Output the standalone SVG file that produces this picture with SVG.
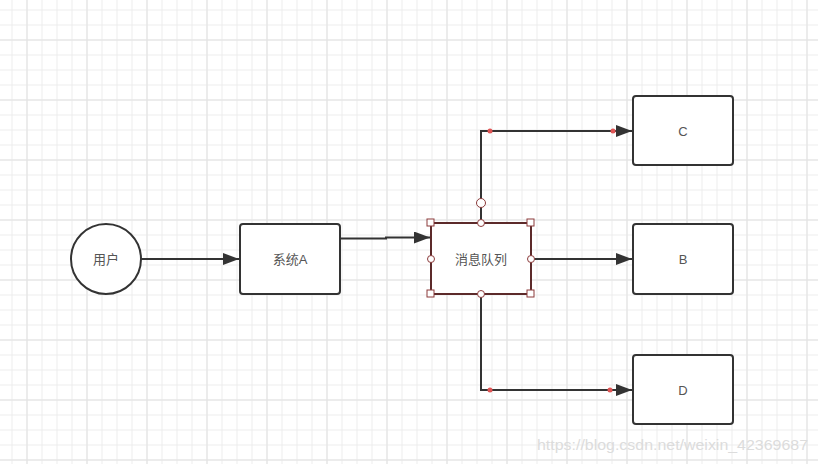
<svg xmlns="http://www.w3.org/2000/svg" width="818" height="464" viewBox="0 0 818 464">
<defs>
<pattern id="minor" x="11.5" y="9.5" width="15" height="15" patternUnits="userSpaceOnUse">
<path d="M0.5 0V15M0 0.5H15" fill="none" stroke="#ececec" stroke-width="1"/>
</pattern>
<pattern id="major" x="26.5" y="39.5" width="60" height="60" patternUnits="userSpaceOnUse">
<path d="M0.5 0V60M0 0.5H60" fill="none" stroke="#e2e2e2" stroke-width="1"/>
</pattern>
<marker id="arrow" viewBox="0 0 16 12" refX="16" refY="6" markerWidth="16" markerHeight="12" markerUnits="userSpaceOnUse" orient="auto">
<path d="M0 0L16 6L0 12Z" fill="#333"/>
</marker>
</defs>
<style>
.node{fill:#fff;stroke:#333;stroke-width:2}
.lbl{font-family:"Liberation Sans","Noto Sans CJK SC",sans-serif;font-size:13px;fill:#555;text-anchor:middle;dominant-baseline:central}
.edge{fill:none;stroke:#333;stroke-width:2;marker-end:url(#arrow)}
.dot{fill:#e05555}
.hs{fill:#fff;stroke:#8b3a3a;stroke-width:1}
</style>
<rect width="818" height="464" fill="#fff"/>
<rect width="818" height="464" fill="url(#minor)"/>
<rect width="818" height="464" fill="url(#major)"/>

<g id="connectors">
<path class="edge" d="M141 259H239"/>
<path class="edge" d="M340 238.5H386V237.5H430"/>
<path class="edge" d="M481 223V131H632"/>
<path class="edge" d="M531 259H632"/>
<path class="edge" d="M481 294V390H632"/>
<circle class="dot" cx="490" cy="131" r="2.5"/>
<circle class="dot" cx="613" cy="131" r="2.5"/>
<circle class="dot" cx="490" cy="390" r="2.5"/>
<circle class="dot" cx="610" cy="390" r="2.5"/>
</g>

<g id="user">
<circle class="node" cx="106" cy="259" r="35"/>
<text class="lbl" x="106" y="259">用户</text>
</g>
<g id="systemA">
<rect class="node" x="240" y="224" width="100" height="70" rx="3"/>
<text class="lbl" x="290" y="259">系统A</text>
</g>
<g id="mq">
<rect x="431" y="223" width="100" height="71" fill="#fff" stroke="#5c2a2a" stroke-width="2"/>
<text class="lbl" x="481" y="259">消息队列</text>
<rect class="hs" x="427" y="219" width="7" height="7"/>
<rect class="hs" x="527" y="219" width="7" height="7"/>
<rect class="hs" x="427" y="290" width="7" height="7"/>
<rect class="hs" x="527" y="290" width="7" height="7"/>
<circle class="hs" cx="481" cy="223" r="3.5"/>
<circle class="hs" cx="481" cy="294" r="3.5"/>
<circle class="hs" cx="431" cy="259" r="3.5"/>
<circle class="hs" cx="531" cy="259" r="3.5"/>
<circle class="hs" cx="481" cy="203" r="4.5"/>
</g>
<g id="C">
<rect class="node" x="633" y="96" width="100" height="69" rx="3"/>
<text class="lbl" x="683" y="131">C</text>
</g>
<g id="B">
<rect class="node" x="633" y="224" width="100" height="70" rx="3"/>
<text class="lbl" x="683" y="259">B</text>
</g>
<g id="D">
<rect class="node" x="633" y="355" width="100" height="69" rx="3"/>
<text class="lbl" x="683" y="390">D</text>
</g>
<text x="537" y="450" font-family="Liberation Sans,sans-serif" font-size="15" fill="#dcdcdc" textLength="271" lengthAdjust="spacingAndGlyphs">https://blog.csdn.net/weixin_42369687</text>
</svg>
